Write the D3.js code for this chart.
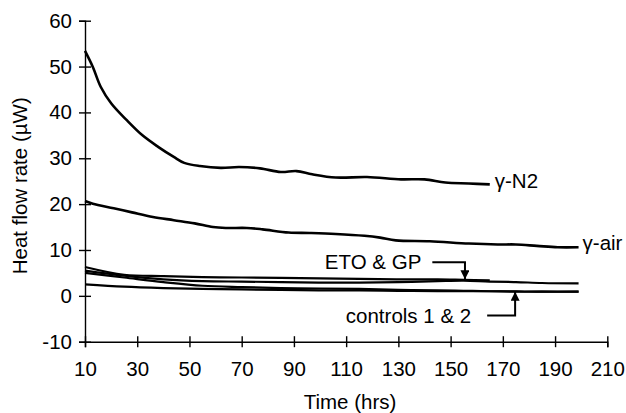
<!DOCTYPE html>
<html>
<head>
<meta charset="utf-8">
<script src="https://cdn.jsdelivr.net/npm/d3@7"></script>
<style>
  html, body { margin: 0; padding: 0; background: #fff; }
  svg { display: block; font-family: "Liberation Sans", Arial, sans-serif; }
</style>
</head>
<body>
<svg id="chart" width="626" height="413"></svg>
<script>
// Heat flow rate over time for irradiated and control samples
const xTicks = [10, 30, 50, 70, 90, 110, 130, 150, 170, 190, 210];
const yTicks = [-10, 0, 10, 20, 30, 40, 50, 60];

const timeN2 = [10, 13, 16, 20, 26, 32, 38, 44, 48, 54, 62, 69, 77, 85, 91, 97, 106, 118, 131, 140, 148, 157, 165];
const gammaN2 = [53.4, 49.9, 45.6, 42.0, 38.3, 35.0, 32.5, 30.3, 29.0, 28.3, 27.9, 28.1, 27.8, 27.0, 27.2, 26.5, 25.8, 25.9, 25.4, 25.4, 24.7, 24.5, 24.3];

const timeAir = [10, 13, 21, 28, 36, 44, 52, 59, 64, 72, 78, 88, 96, 106, 117, 123, 129, 142, 157, 168, 175, 183, 191, 199];
const gammaAir = [20.7, 20.1, 19.1, 18.2, 17.2, 16.5, 15.8, 15.0, 14.8, 14.8, 14.5, 13.8, 13.7, 13.5, 13.1, 12.7, 12.1, 11.9, 11.4, 11.2, 11.2, 10.9, 10.6, 10.6];

const timeLow = [10, 25, 40, 55, 70, 85, 100, 115, 130, 145, 155, 165, 175, 185, 199];
const eto = [6.3, 4.6, 4.3, 4.1, 4.0, 3.9, 3.8, 3.7, 3.6, 3.6, 3.5, 3.4];
const gp = [5.5, 4.4, 3.6, 3.2, 3.1, 3.0, 2.9, 2.9, 3.0, 3.2, 3.3, 3.1, 3.0, 2.8, 2.7];
const control1 = [5.0, 4.0, 3.0, 2.2, 1.9, 1.7, 1.6, 1.5, 1.3, 1.2, 1.1, 1.0, 1.0, 0.9, 0.9];
const control2 = [2.5, 2.0, 1.7, 1.5, 1.4, 1.3, 1.2, 1.2, 1.1, 1.0, 1.0, 1.0, 0.9, 0.9, 0.9];

const svg = d3.select("#chart");
const x = d3.scaleLinear().domain([10, 210]).range([85, 607.3]);
const y = d3.scaleLinear().domain([-10, 60]).range([341.7, 20.7]);

const FONT = 20.5;
const FAMILY = '"Liberation Sans", Arial, sans-serif';
const plain = d => String(d);

// Axes
const yAxis = svg.append("g")
  .attr("transform", `translate(${x(10)},0)`)
  .call(d3.axisLeft(y).tickValues(yTicks).tickSize(6).tickPadding(7).tickFormat(plain));
yAxis.selectAll(".tick line").attr("x1", -6).attr("x2", 6);

const xAxis = svg.append("g")
  .attr("transform", `translate(0,${y(-10)})`)
  .call(d3.axisBottom(x).tickValues(xTicks).tickSize(5.5).tickPadding(14).tickFormat(plain));
xAxis.selectAll(".tick line").attr("y1", -5.5).attr("y2", 5.5);

[yAxis, xAxis].forEach(g => {
  g.attr("font-family", FAMILY).attr("font-size", FONT);
  g.select(".domain").attr("stroke", "#000").attr("stroke-width", 1.4);
  g.selectAll(".tick line").attr("stroke", "#000").attr("stroke-width", 1.4);
  g.selectAll(".tick text").attr("fill", "#000");
});

// Axis titles
svg.append("text")
  .attr("x", 350).attr("y", 409)
  .attr("text-anchor", "middle").attr("font-size", FONT)
  .text("Time (hrs)");

svg.append("text")
  .attr("transform", `translate(27,${y(24)}) rotate(-90)`)
  .attr("text-anchor", "middle").attr("font-size", FONT)
  .text("Heat flow rate (\u00b5W)");

// Series lines
const line = d3.line()
  .x(d => x(d[0]))
  .y(d => y(d[1]))
  .curve(d3.curveCatmullRom.alpha(0.5));

const series = [
  { t: timeN2, v: gammaN2, w: 2.6 },
  { t: timeAir, v: gammaAir, w: 2.6 },
  { t: timeLow, v: eto, w: 2.2 },
  { t: timeLow, v: gp, w: 2.2 },
  { t: timeLow, v: control1, w: 2.2 },
  { t: timeLow, v: control2, w: 2.2 }
];

svg.append("g").selectAll("path")
  .data(series)
  .join("path")
  .attr("fill", "none")
  .attr("stroke", "#000")
  .attr("stroke-width", d => d.w)
  .attr("stroke-linejoin", "round")
  .attr("d", d => line(d.v.map((v, i) => [d.t[i], v])));

// End-of-line labels
const lastN2 = gammaN2.length - 1;
svg.append("text")
  .attr("x", x(timeN2[lastN2]) + 5).attr("y", y(gammaN2[lastN2]) + 4)
  .attr("font-size", FONT)
  .text("\u03b3-N2");

const lastAir = gammaAir.length - 1;
svg.append("text")
  .attr("x", x(timeAir[lastAir]) + 4).attr("y", y(gammaAir[lastAir]) + 3)
  .attr("font-size", FONT)
  .text("\u03b3-air");

// Callouts with elbow arrows
svg.append("defs").append("marker")
  .attr("id", "head")
  .attr("viewBox", "0 0 10 10")
  .attr("refX", 10).attr("refY", 5)
  .attr("markerWidth", 9).attr("markerHeight", 9)
  .attr("markerUnits", "userSpaceOnUse")
  .attr("orient", "auto")
  .append("path").attr("d", "M0,0 L10,5 L0,10 Z").attr("fill", "#000");

function callout(label, tx, ty, elbowT, tipV, textGap) {
  const yLine = y(ty);
  const x0 = x(tx);
  const x1 = x(elbowT);
  svg.append("path")
    .attr("fill", "none").attr("stroke", "#000").attr("stroke-width", 2)
    .attr("marker-end", "url(#head)")
    .attr("d", `M${x0},${yLine} H${x1} V${y(tipV)}`);
  svg.append("text")
    .attr("x", x0 - textGap).attr("y", yLine + 7)
    .attr("text-anchor", "end").attr("font-size", FONT)
    .text(label);
}

callout("ETO & GP", 143, 7.3, 155.5, 3.6, 11);
callout("controls 1 & 2", 164, -4.3, 174.7, 0.9, 16);
</script>
</body>
</html>
